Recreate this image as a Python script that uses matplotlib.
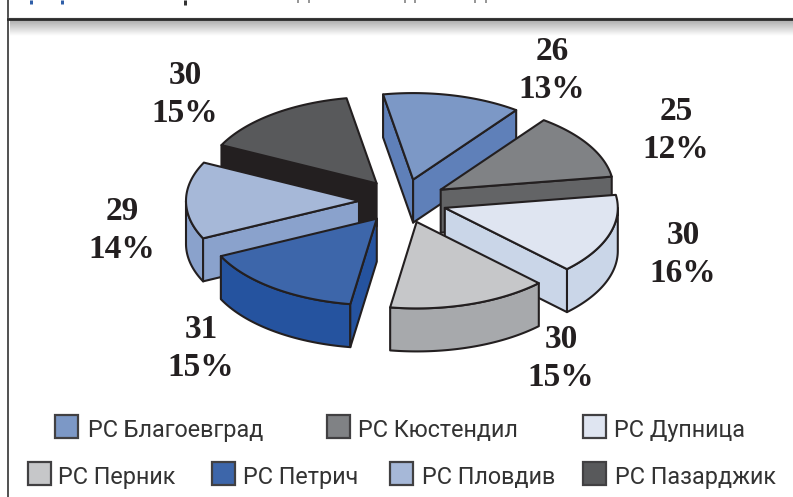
import matplotlib
matplotlib.use('Agg')
import matplotlib.pyplot as plt
from matplotlib.patches import Polygon, Rectangle
import numpy as np

# Data
names = ['РС Благоевград', 'РС Кюстендил', 'РС Дупница', 'РС Перник',
         'РС Петрич', 'РС Пловдив', 'РС Пазарджик']
values = [26, 25, 30, 30, 31, 29, 30]
percents = ['13%', '12%', '16%', '15%', '15%', '14%', '15%']

top_colors = ['#7c98c6', '#808285', '#dfe5f1', '#c6c7c9', '#3d66aa', '#a6b8d8', '#58595b']
side_colors = ['#5f80b9', '#636466', '#cad6e8', '#a7a9ac', '#25539f', '#8aa2cc', '#231f20']

# Pie geometry in pixels
cx, cy = 403, 201
radius = 173
tilt = 0.5
depth = 43
explode = 44
start_angle = -10
edge = '#231f20'

label_pos = [(552, 51), (676, 112), (683, 236), (561, 340), (201, 329), (122, 212), (185, 76)]
legend_text = [(88, 437), (358, 437), (614, 437), (58, 484), (243, 484), (422, 484), (615, 484)]
legend_box = [(55, 415), (327, 415), (583, 415), (28, 462), (212, 462), (390, 462), (583, 462)]

# cut-off title line at the very top: (x, colour, width, length)
title_bits = [(31, '#2f5fa8', 3, 4), (62, '#2f5fa8', 3, 4), (185, '#333333', 3, 5),
              (298, '#777777', 1.5, 3), (309, '#777777', 1.5, 3), (405, '#777777', 1.5, 3),
              (415, '#777777', 1.5, 3), (475, '#777777', 1.5, 3), (486, '#777777', 1.5, 3)]

fig = plt.figure(figsize=(7.93, 4.97), dpi=100)
ax = fig.add_axes([0, 0, 1, 1])
ax.set_xlim(0, 793)
ax.set_ylim(497, 0)
ax.axis('off')


def pt(theta, r, ox, oy, dz=0):
    t = np.radians(theta)
    return ox + r * np.sin(t), oy - tilt * r * np.cos(t) + dz


def draw_slice(a, b, top, side, z):
    mid = (a + b) / 2
    ox, oy = pt(mid, explode, cx, cy)
    kw = dict(edgecolor=edge, linewidth=1.5, joinstyle='round', zorder=z)

    # outer rim, only the part turned to the viewer
    lo, hi = max(a, 90), min(b, 270)
    if lo < hi:
        th = np.linspace(lo, hi, 60)
        upper = [pt(t, radius, ox, oy) for t in th]
        lower = [pt(t, radius, ox, oy, depth) for t in th[::-1]]
        ax.add_patch(Polygon(upper + lower, facecolor=side, **kw))

    # the two cut faces
    for ang, visible in ((a, np.sin(np.radians(a)) < 0), (b, np.sin(np.radians(b)) > 0)):
        if visible:
            p = pt(ang, radius, ox, oy)
            ax.add_patch(Polygon([(ox, oy), p, (p[0], p[1] + depth), (ox, oy + depth)],
                                 facecolor=side, **kw))

    th = np.linspace(a, b, 60)
    ax.add_patch(Polygon([(ox, oy)] + [pt(t, radius, ox, oy) for t in th],
                         facecolor=top, **kw))


sweeps = np.array(values) / sum(values) * 360
starts = start_angle + np.concatenate(([0], np.cumsum(sweeps)[:-1]))
mids = starts + sweeps / 2

# back to front
order = np.argsort(-np.cos(np.radians(mids)))
for z, i in enumerate(order):
    draw_slice(starts[i], starts[i] + sweeps[i], top_colors[i], side_colors[i], 3 + z)

# Value labels
for v, p, (x, y) in zip(values, percents, label_pos):
    ax.text(x, y, str(v), family='Liberation Serif', fontweight='bold', fontsize=24,
            color=edge, ha='center', va='center', zorder=20)
    ax.text(x, y + 38, p, family='Liberation Serif', fontweight='bold',
            fontsize=24, color=edge, ha='center', va='center', zorder=20)

# Legend
for name, col, (tx, ty), (bx, by) in zip(names, top_colors, legend_text, legend_box):
    ax.add_patch(Rectangle((bx, by), 23, 23, facecolor=col, edgecolor='#414042', linewidth=1.6))
    ax.text(tx, ty, name, family='Roboto', fontsize=16.8, color='#333333', ha='left', va='baseline')

# Frame
ax.plot([8, 8], [0, 497], color='#333333', linewidth=1.2)
ax.plot([8, 793], [19, 19], color='#2b2b2b', linewidth=2, zorder=5)
ax.plot([8, 793], [17.5, 17.5], color='#bbbbbb', linewidth=1, zorder=4)
shade = np.linspace(0.68, 1, 40).reshape(-1, 1)
ax.imshow(shade, cmap='gray', vmin=0, vmax=1, extent=(10, 793, 36, 20), aspect='auto', zorder=1)
for x, col, w, length in title_bits:
    ax.plot([x, x], [0, length], color=col, linewidth=w * 0.72, solid_capstyle='butt')
ax.set_xlim(0, 793)
ax.set_ylim(497, 0)

fig.savefig('out.png', dpi=100)
